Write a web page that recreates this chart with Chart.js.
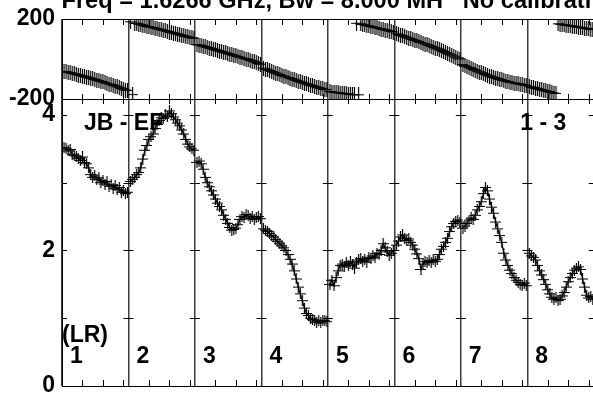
<!DOCTYPE html>
<html>
<head>
<meta charset="utf-8">
<script src="https://cdn.jsdelivr.net/npm/chart.js@4.4.1/dist/chart.umd.min.js"></script>
<style>
  html, body { margin:0; padding:0; background:#fff; overflow:hidden; }
  #wrap { position:absolute; left:0; top:0; width:600px; height:393px; }
</style>
</head>
<body>
<div id="wrap"><canvas id="possm_Chart" width="600" height="393"></canvas></div>
<script>
// IF panels, 32 channels each
var ifLabels = ["1", "2", "3", "4", "5", "6", "7", "8"];
var nChan = 32;
var ifSpan = 32.5;
var chanTicks = [10, 20, 30];
var phaseTicks = [-200, 0, 200];
var ampTicks = [0, 2, 4];
var ampMinorTicks = [1, 2, 3, 4];

var titleText = "Freq = 1.6266 GHz, Bw = 8.000 MH   No calibrati";
var baselineText = "JB - EF";
var stokesText = "(LR)";
var sourceText = "1 - 3";

// amplitude per IF
var ampIF1 = [3.52,3.50,3.47,3.49,3.42,3.40,3.38,3.36,3.33,3.38,3.30,3.28,3.22,3.12,3.08,3.10,3.05,3.07,3.00,3.03,2.98,3.02,2.95,2.97,2.92,2.96,2.90,2.93,2.86,2.88,2.84,2.86];
var ampIF2 = [3.02,3.05,3.08,3.12,3.15,3.22,3.35,3.48,3.55,3.64,3.68,3.72,3.80,3.86,3.92,3.96,3.95,4.00,3.98,4.06,4.02,3.97,3.93,3.88,3.84,3.78,3.72,3.64,3.57,3.53,3.50,3.48];
var ampIF3 = [3.30,3.32,3.28,3.20,3.08,3.00,2.94,2.88,2.82,2.76,2.70,2.65,2.60,2.52,2.46,2.40,2.34,2.30,2.31,2.33,2.38,2.46,2.50,2.48,2.53,2.51,2.47,2.50,2.46,2.48,2.50,2.47];
var ampIF4 = [2.32,2.30,2.28,2.25,2.22,2.20,2.16,2.13,2.10,2.07,2.04,2.00,1.94,1.87,1.80,1.70,1.58,1.46,1.36,1.26,1.15,1.07,1.04,1.00,0.98,0.96,0.94,0.97,0.93,0.96,0.97,0.95];
var ampIF5 = [1.50,1.56,1.48,1.60,1.70,1.78,1.80,1.76,1.82,1.78,1.84,1.80,1.74,1.82,1.86,1.88,1.84,1.86,1.83,1.90,1.88,1.92,1.90,1.96,1.94,2.00,2.10,2.04,1.98,1.93,1.96,2.00];
var ampIF6 = [2.08,2.14,2.20,2.23,2.18,2.15,2.17,2.12,2.08,2.02,1.95,1.88,1.72,1.80,1.84,1.82,1.85,1.83,1.86,1.84,1.87,1.94,2.02,2.06,2.12,2.18,2.28,2.35,2.40,2.43,2.45,2.42];
var ampIF7 = [2.33,2.36,2.40,2.45,2.48,2.46,2.52,2.60,2.65,2.72,2.84,2.93,2.88,2.76,2.64,2.55,2.42,2.32,2.22,2.12,1.96,1.86,1.78,1.71,1.66,1.60,1.56,1.53,1.50,1.49,1.52,1.48];
var ampIF8 = [1.96,1.92,1.90,1.86,1.78,1.70,1.64,1.57,1.50,1.42,1.36,1.31,1.28,1.30,1.26,1.28,1.33,1.38,1.46,1.54,1.60,1.66,1.71,1.74,1.76,1.72,1.58,1.46,1.34,1.30,1.32,1.28];

// phase per IF (degrees)
var phaseIF1 = [-62,-64,-67,-69,-72,-74,-77,-80,-82,-85,-88,-90,-93,-96,-99,-102,-105,-108,-111,-114,-118,-121,-125,-128,-132,-135,-139,-143,-147,-151,-155,-158];
var phaseIF2 = [186,-178,180,178,175,172,170,167,164,162,159,157,154,151,149,146,143,141,138,135,133,130,127,125,122,119,117,114,111,109,106,104];
var phaseIF3 = [72,70,67,64,61,58,55,52,49,46,43,40,37,34,31,28,25,22,19,16,13,10,6,3,0,-3,-7,-10,-14,-18,-22,-26];
var phaseIF4 = [-46,-50,-54,-58,-62,-66,-70,-74,-78,-82,-85,-89,-93,-97,-100,-104,-107,-111,-114,-118,-121,-124,-128,-131,-134,-137,-140,-143,-146,-149,-152,-154];
var phaseIF5 = [-163,-165,-166,-168,-169,-170,-172,-173,-174,-175,-177,-178,-179,179,-179,176,173,171,168,166,163,161,158,156,153,150,148,145,143,140,138,135];
var phaseIF6 = [126,123,119,116,112,109,105,101,98,94,91,87,83,79,75,71,67,63,59,55,51,47,42,38,33,29,24,20,15,10,5,0];
var phaseIF7 = [-28,-33,-38,-42,-47,-52,-56,-61,-65,-69,-73,-77,-81,-85,-89,-92,-95,-98,-101,-104,-107,-110,-112,-115,-117,-120,-122,-124,-126,-128,-130,-132];
var phaseIF8 = [-138,-141,-143,-146,-148,-151,-154,-156,-159,-162,-164,-167,-170,-172,176,174,172,171,169,168,166,164,163,161,159,158,156,154,153,151,149,147];

var ampIF = [ampIF1, ampIF2, ampIF3, ampIF4, ampIF5, ampIF6, ampIF7, ampIF8];
var phaseIF = [phaseIF1, phaseIF2, phaseIF3, phaseIF4, phaseIF5, phaseIF6, phaseIF7, phaseIF8];

var fontFamily = "'Liberation Sans', Arial, Helvetica, sans-serif";

function makeCross(w, h, color) {
    var cv = document.createElement("canvas");
    cv.width = w;
    cv.height = h;
    var g = cv.getContext("2d");
    g.strokeStyle = color;
    g.lineWidth = 1.2;
    g.beginPath();
    g.moveTo(0, Math.floor(h / 2) + 0.5);
    g.lineTo(w, Math.floor(h / 2) + 0.5);
    g.moveTo(Math.floor(w / 2) + 0.5, 0);
    g.lineTo(Math.floor(w / 2) + 0.5, h);
    g.stroke();
    return cv;
}
var ampCross = makeCross(11, 11, "#000");
var phaseCross = makeCross(11, 15, "#000");

var datasets = [];
var phasePts = [];
for (var k = 0; k < ifLabels.length; k++) {
    var pts = [];
    for (var c = 0; c < nChan; c++) {
        pts.push({x: k * ifSpan + c + 1, y: ampIF[k][c]});
        phasePts.push({x: k * ifSpan + c + 1, y: phaseIF[k][c]});
    }
    datasets.push({
        label: "amp IF " + ifLabels[k], data: pts, yAxisID: "yAmp",
        showLine: true, borderColor: "#000", borderWidth: 1.2,
        pointStyle: ampCross, pointRadius: 5
    });
}
datasets.push({
    label: "phase", data: phasePts, yAxisID: "yPhase",
    showLine: false, pointStyle: phaseCross, pointRadius: 5
});

// tick marks, title and labels
var possmDecor = {
    id: "possmDecor",
    afterDatasetsDraw: function(chart) {
        var ctx = chart.ctx;
        var xs = chart.scales.x, yP = chart.scales.yPhase, yA = chart.scales.yAmp;
        ctx.save();
        ctx.strokeStyle = "#000";
        ctx.lineWidth = 1;
        ctx.beginPath();
        for (var k = 0; k < ifLabels.length; k++) {
            chanTicks.forEach(function(ch) {
                var px = Math.round(xs.getPixelForValue(k * ifSpan + ch)) + 0.5;
                ctx.moveTo(px, yP.top); ctx.lineTo(px, yP.top + 6);
                ctx.moveTo(px, yP.bottom - 5); ctx.lineTo(px, yP.bottom + 5);
                ctx.moveTo(px, yA.bottom - 6); ctx.lineTo(px, yA.bottom);
            });
        }
        for (var b = 0; b <= ifLabels.length; b++) {
            var bx = xs.getPixelForValue(b * ifSpan);
            ampMinorTicks.forEach(function(v) {
                var py = Math.round(yA.getPixelForValue(v)) + 0.5;
                ctx.moveTo(Math.max(bx - 5, xs.left), py); ctx.lineTo(bx + 5, py);
            });
        }
        ctx.stroke();

        ctx.fillStyle = "#000";
        ctx.font = "bold 23.6px " + fontFamily;
        ctx.textAlign = "left";
        ctx.textBaseline = "alphabetic";
        ctx.fillText(titleText, 61.5, 7.5);

        ctx.font = "bold 23px " + fontFamily;
        ctx.textBaseline = "middle";
        ctx.fillText(baselineText, xs.getPixelForValue(0) + 22, yA.getPixelForValue(3.875));
        ctx.fillText(sourceText, xs.getPixelForValue(7 * ifSpan) - 7, yA.getPixelForValue(3.875));
        ctx.fillText(stokesText, xs.left, yA.getPixelForValue(0.74));
        for (var n = 0; n < ifLabels.length; n++) {
            ctx.fillText(ifLabels[n], xs.getPixelForValue(n * ifSpan) + 8, yA.getPixelForValue(0.43));
        }
        ctx.restore();
    }
};

var possmChart = new Chart(document.getElementById("possm_Chart"), {
    type: "scatter",
    data: { datasets: datasets },
    plugins: [possmDecor],
    options: {
        responsive: false,
        animation: false,
        devicePixelRatio: 1,
        layout: { padding: { top: 19, bottom: 7, left: 0, right: 6 } },
        plugins: { legend: { display: false }, tooltip: { enabled: false } },
        scales: {
            x: {
                type: "linear", min: 0, max: ifLabels.length * ifSpan,
                afterBuildTicks: function(s) {
                    var t = [];
                    for (var i = 0; i <= ifLabels.length; i++) t.push({value: i * ifSpan});
                    s.ticks = t;
                },
                ticks: { display: false },
                grid: { color: "#3c3c3c", lineWidth: 1.5, drawTicks: false },
                border: { display: false },
                afterFit: function(s) { s.height = 0; }
            },
            yPhase: {
                type: "linear", position: "left", stack: "v", stackWeight: 80, weight: 1,
                min: -200, max: 200,
                afterBuildTicks: function(s) { s.ticks = phaseTicks.map(function(v) { return {value: v}; }); },
                ticks: {
                    color: "#000", padding: 7,
                    font: { family: fontFamily, size: 23, weight: "bold" },
                    callback: function(v) { return v === 0 ? "" : v; }
                },
                grid: { color: "#000", lineWidth: 1, drawTicks: false },
                border: { color: "#000", width: 1 },
                afterFit: function(s) { s.width = 62; s.paddingTop = 0; s.paddingBottom = 0; }
            },
            yAmp: {
                type: "linear", position: "left", stack: "v", stackWeight: 287, weight: 0,
                min: 0, max: 4.236,
                afterBuildTicks: function(s) { s.ticks = ampTicks.map(function(v) { return {value: v}; }); },
                ticks: {
                    color: "#000", padding: 7,
                    font: { family: fontFamily, size: 23, weight: "bold" }
                },
                grid: {
                    drawTicks: false, lineWidth: 1,
                    color: function(ctx) { return ctx.tick && ctx.tick.value === 0 ? "#000" : "rgba(0,0,0,0)"; }
                },
                border: { color: "#000", width: 1 },
                afterFit: function(s) { s.width = 62; s.paddingTop = 0; s.paddingBottom = 0; }
            }
        }
    }
});
</script>
</body>
</html>
